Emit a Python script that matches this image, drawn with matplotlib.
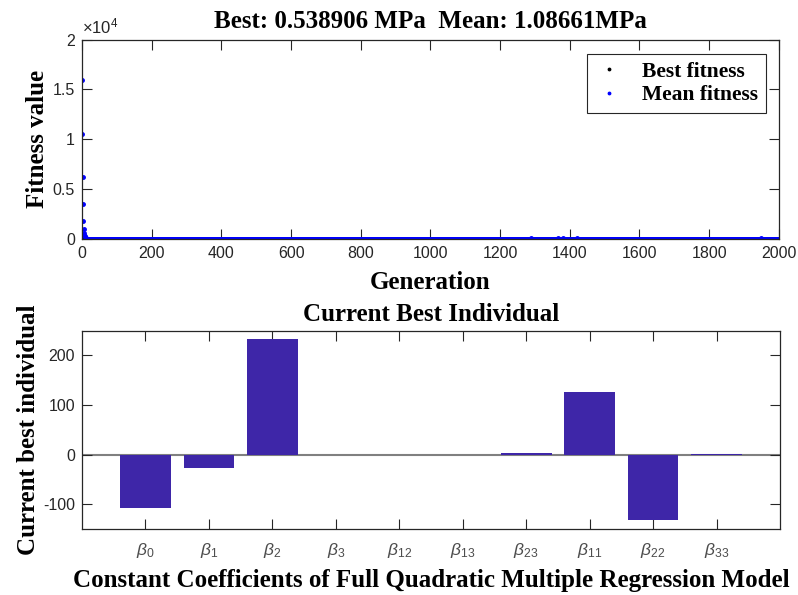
import numpy as np
import matplotlib.pyplot as plt
from matplotlib.ticker import FuncFormatter

plt.rcParams['font.family'] = ['Liberation Sans', 'DejaVu Sans']
plt.rcParams['mathtext.fontset'] = 'custom'
plt.rcParams['mathtext.it'] = 'Liberation Sans:italic'
plt.rcParams['mathtext.rm'] = 'Liberation Sans'
plt.rcParams['axes.unicode_minus'] = False

# GA progress: generation 0..2000
n_gen = 2000
best_final = 0.538906
mean_final = 1.08661
mean_head = [15900, 10550, 6240, 3535, 1870, 1030, 670, 400, 300, 200, 120, 80, 50, 30, 20]
best_head = [40, 12, 6, 3, 2, 1.5, 1.2, 1.0, 0.8, 0.7, 0.6]
# occasional bumps in the mean around late generations
spike_gens = [1290, 1330, 1365, 1380, 1420, 1445, 1930, 1950, 1980]
spike_vals = [70, 60, 110, 90, 80, 60, 60, 70, 50]

# best individual: coefficients of the full quadratic model
coef_names = [r'$\beta_0$', r'$\beta_1$', r'$\beta_2$', r'$\beta_3$', r'$\beta_{12}$',
              r'$\beta_{13}$', r'$\beta_{23}$', r'$\beta_{11}$', r'$\beta_{22}$', r'$\beta_{33}$']
coef_vals = [-107, -28, 234, -1.0, -0.8, -0.6, 3.0, 126, -131, 1.0]

gens = np.arange(n_gen + 1)
mean_fit = np.full(n_gen + 1, mean_final)
mean_fit[:len(mean_head)] = mean_head
mean_fit[spike_gens] = spike_vals
best_fit = np.full(n_gen + 1, best_final)
best_fit[:len(best_head)] = best_head

axcol = '#262626'
serif = dict(family='Liberation Serif', weight='bold', size=18)

fig = plt.figure(figsize=(7.98, 5.95), dpi=100)
ax1 = fig.add_axes([0.1028, 0.598, 0.8732, 0.3356])
ax2 = fig.add_axes([0.1028, 0.111, 0.8746, 0.3332])

for ax in (ax1, ax2):
    ax.tick_params(direction='in', top=True, right=True, colors=axcol,
                   labelsize=11.5, length=7, width=0.8, pad=5)
    for s in ax.spines.values():
        s.set_color(axcol)
        s.set_linewidth(0.9)

# top: fitness per generation
ax1.plot(gens, best_fit, '.', color='black', markersize=5, label='Best fitness')
ax1.plot(gens, mean_fit, '.', color='blue', markersize=5, label='Mean fitness')
ax1.set_xlim(0, 2000)
ax1.set_ylim(0, 20000)
ax1.set_xticks(np.arange(0, 2001, 200))
ax1.set_yticks(np.arange(0, 20001, 5000))
ax1.yaxis.set_major_formatter(FuncFormatter(lambda v, p: '%g' % (v / 1e4)))
ax1.text(0, 1.015, r'$\times10^{4}$', transform=ax1.transAxes, fontsize=12,
         color=axcol, ha='left', va='bottom')
ax1.set_title('Best: 0.538906 MPa  Mean: 1.08661MPa', fontdict=serif, pad=8)
ax1.set_xlabel('Generation', fontdict=serif, labelpad=7)
ax1.set_ylabel('Fitness value', fontdict=serif, labelpad=3)
leg = ax1.legend(loc='upper right', prop=dict(family='Liberation Serif', weight='bold', size=15.5),
                 fancybox=False, framealpha=1, edgecolor=axcol, handlelength=1.3,
                 handletextpad=0.9, borderpad=0.35, labelspacing=0.15, borderaxespad=0,
                 bbox_to_anchor=(0.981, 0.926), markerscale=0.7)
leg.get_frame().set_linewidth(0.8)

# bottom: bar chart of coefficients
x = np.arange(1, len(coef_vals) + 1)
ax2.axhline(0, color='#808080', linewidth=1.5, zorder=1)
ax2.bar(x, coef_vals, width=0.8, color=(0.2422, 0.1504, 0.6603), zorder=2)
ax2.set_xlim(0, 11)
ax2.set_ylim(-150, 250)
ax2.set_yticks([-100, 0, 100, 200])
ax2.set_xticks(x)
ax2.set_xticklabels(coef_names, color='#4d4d4d', fontsize=12.5)
ax2.tick_params(axis='x', pad=9)
ax2.set_title('Current Best Individual', fontdict=serif, pad=7)
ax2.set_xlabel('Constant Coefficients of Full Quadratic Multiple Regression Model',
               fontdict=serif, labelpad=6)
ax2.set_ylabel('Current best individual', fontdict=serif, labelpad=2)

fig.savefig('out.png', dpi=100)
